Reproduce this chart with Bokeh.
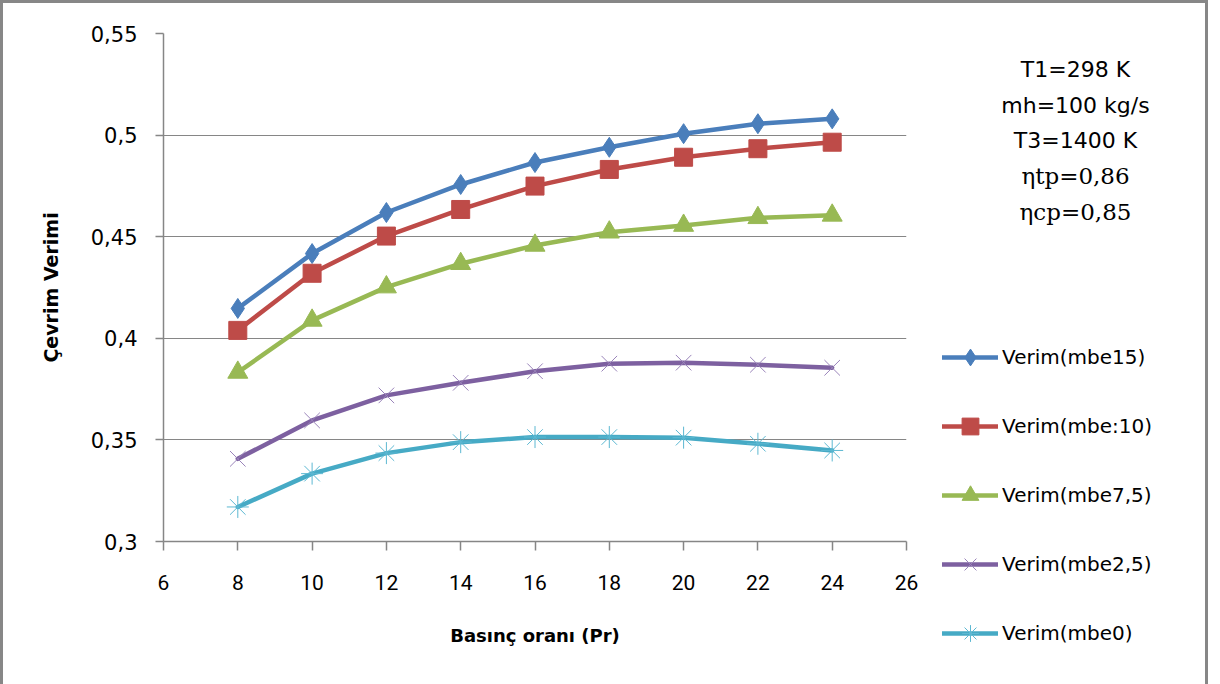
from bokeh.plotting import figure
from bokeh.layouts import row
from bokeh.models import FixedTicker, Legend, LegendItem, Label, Range1d
from bokeh.embed import file_html
from bokeh.resources import INLINE

# ---- data ----
pr = [8, 10, 12, 14, 16, 18, 20, 22, 24]
verim_mbe15 = [0.4147, 0.4417, 0.4619, 0.4757, 0.4865, 0.4940, 0.5007, 0.5056, 0.5080]
verim_mbe10 = [0.4039, 0.4320, 0.4503, 0.4634, 0.4749, 0.4831, 0.4891, 0.4933, 0.4965]
verim_mbe75 = [0.3832, 0.4088, 0.4252, 0.4367, 0.4457, 0.4522, 0.4555, 0.4593, 0.4605]
verim_mbe25 = [0.3407, 0.3596, 0.3719, 0.3781, 0.3838, 0.3875, 0.3880, 0.3870, 0.3855]
verim_mbe0 = [0.3170, 0.3334, 0.3435, 0.3489, 0.3514, 0.3514, 0.3511, 0.3481, 0.3448]

series_names = ["Verim(mbe15)", "Verim(mbe:10)", "Verim(mbe7,5)", "Verim(mbe2,5)", "Verim(mbe0)"]
x_ticks = [6, 8, 10, 12, 14, 16, 18, 20, 22, 24, 26]
y_ticks = [0.3, 0.35, 0.4, 0.45, 0.5, 0.55]
y_tick_labels = ["0,3", "0,35", "0,4", "0,45", "0,5", "0,55"]
x_title = "Basınç oranı (Pr)"
y_title = "Çevrim Verimi"
note_lines = ["T1=298 K", "mh=100 kg/s", "T3=1400 K", "ηtp=0,86", "ηcp=0,85"]

FONT = "DejaVu Sans"
H = 681

# ---- main chart ----
p = figure(width=923, height=H, output_backend="svg", toolbar_location=None,
           x_range=Range1d(6, 26), y_range=Range1d(0.3, 0.55),
           min_border_left=160, min_border_right=20, min_border_top=30, min_border_bottom=143)
p.frame_align = False
p.outline_line_color = None
p.xgrid.visible = False
p.ygrid.grid_line_color = "#868686"
p.ygrid.grid_line_width = 1

p.xaxis.ticker = FixedTicker(ticks=x_ticks)
p.yaxis.ticker = FixedTicker(ticks=y_ticks)
p.yaxis.major_label_overrides = {t: l for t, l in zip(y_ticks, y_tick_labels)}
for ax in (p.xaxis[0], p.yaxis[0]):
    ax.axis_line_color = "#868686"
    ax.axis_line_width = 1.5
    ax.major_tick_line_color = "#868686"
    ax.major_tick_line_width = 1.5
    ax.major_tick_in = 0
    ax.minor_tick_line_color = None
    ax.major_label_text_color = "#000000"
    ax.axis_label_text_color = "#000000"
    ax.axis_label_text_font_style = "bold"
    ax.axis_label_text_font = FONT

p.yaxis.major_tick_out = 8
p.yaxis.major_label_standoff = 18
p.yaxis.major_label_text_font = FONT
p.yaxis.major_label_text_font_size = "21px"
p.yaxis.axis_label = y_title
p.yaxis.axis_label_text_font_size = "19px"
p.yaxis.axis_label_standoff = 26

p.xaxis.major_tick_out = 9
p.xaxis.major_label_standoff = 24
p.xaxis.major_label_text_font = "Roboto"
p.xaxis.major_label_text_font_size = "21px"
p.xaxis.axis_label = x_title
p.xaxis.axis_label_text_font_size = "18px"
p.xaxis.axis_label_standoff = 32

styles = [
    (verim_mbe15, "#4A7EBB", "diamond", 20, 1, "#4A7EBB"),
    (verim_mbe10, "#BE4B48", "square", 18, 1, "#BE4B48"),
    (verim_mbe75, "#98B954", "triangle", 20, 1, "#98B954"),
    (verim_mbe25, "#7D60A0", "x", 22, 1, "#9A84BA"),
    (verim_mbe0, "#46AAC5", "asterisk", 22, 1, "#5CB8D2"),
]

for ys, color, marker, size, mlw, mcolor in styles:
    p.line(pr, ys, line_color=color, line_width=4.5, line_cap="round", line_join="round")
    p.scatter(pr, ys, marker=marker, size=size, fill_color=color, line_color=mcolor,
              line_width=mlw)

# ---- side panel: notes + legend ----
side = figure(width=279, height=H, output_backend="svg", toolbar_location=None,
              x_range=Range1d(0, 279), y_range=Range1d(H, 0),
              x_axis_type=None, y_axis_type=None,
              min_border=0, min_border_left=0, min_border_right=0,
              min_border_top=0, min_border_bottom=0)
side.frame_align = False
side.outline_line_color = None
side.xgrid.visible = False
side.ygrid.visible = False

nan = float("nan")
items = []
for (ys, color, marker, size, mlw, mcolor), name in zip(styles, series_names):
    ln = side.line([nan], [nan], line_color=color, line_width=4.5, line_cap="round")
    sc = side.scatter([nan], [nan], marker=marker, size=size, fill_color=color,
                      line_color=mcolor, line_width=mlw)
    items.append(LegendItem(label=name, renderers=[ln, sc]))

legend = Legend(items=items, location=(16, 30), orientation="vertical",
                glyph_width=56, glyph_height=42, label_height=20, label_standoff=4,
                spacing=27, padding=0, margin=0,
                label_text_font=FONT, label_text_font_size="20px",
                label_text_color="#000000",
                border_line_alpha=0, background_fill_alpha=0)
side.add_layout(legend, "center")

note_y = [66, 102, 137, 172, 208]
for txt, yv in zip(note_lines, note_y):
    serif = txt.startswith("η")
    side.add_layout(Label(x=149, y=yv, text=txt, text_align="center", text_baseline="middle",
                          text_font="DejaVu Serif" if serif else FONT,
                          text_font_size="23px" if serif else "22px",
                          text_color="#000000"))

layout = row(p, side)
layout.styles = {"border-left": "3px solid #878787", "border-top": "3px solid #878787",
                 "border-right": "3px solid #878787"}

open("out.html", "w").write(file_html(layout, INLINE))
